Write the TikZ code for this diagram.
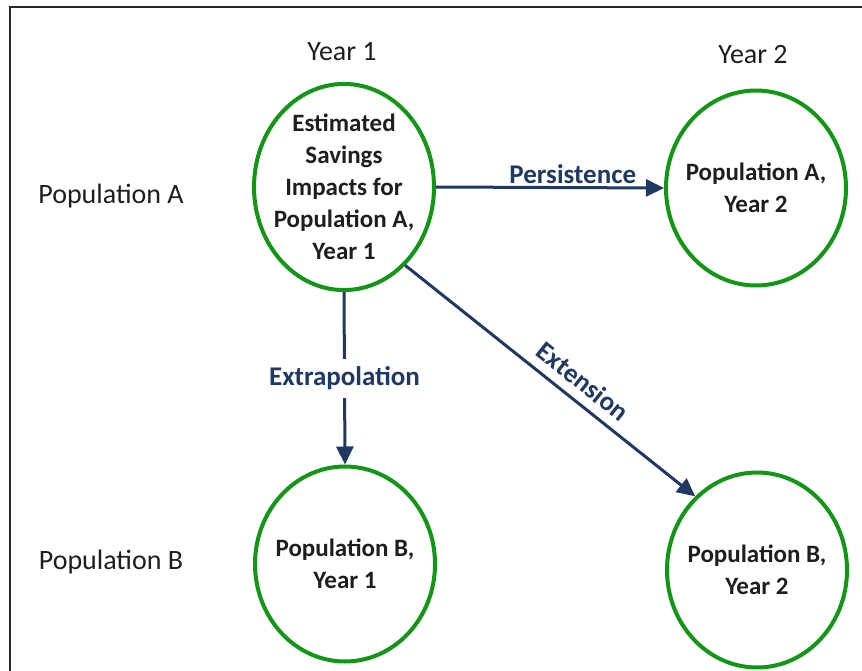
\documentclass[tikz,border=0pt]{standalone}
\usepackage{fontspec}
\setmainfont{Carlito}
\usetikzlibrary{shapes.geometric,arrows.meta}
\definecolor{popgreen}{RGB}{18,150,22}
\definecolor{flowblue}{RGB}{31,56,100}
\definecolor{labeltext}{RGB}{30,30,30}

\begin{document}
\begin{tikzpicture}[x=1pt,y=-1pt,
popnode/.style={draw=popgreen,line width=4pt,ellipse,minimum width=180pt,minimum height=195pt,
    inner xsep=-30pt,inner ysep=0pt,align=center,text=labeltext,font=\bfseries\fontsize{25}{32}\selectfont},
flow/.style={draw=flowblue,line width=3pt,-{Triangle[length=18pt,width=17pt]}},
flowlabel/.style={text=flowblue,font=\bfseries\fontsize{27}{30}\selectfont},
axislabel/.style={text=labeltext,font=\fontsize{28}{32}\selectfont}]
\useasboundingbox (0,0) rectangle (862,671);
% frame edges
\draw[line width=1.5pt,black!85] (10,671) -- (10,7) -- (862,7);

% headings
\node (yr1) [axislabel] at (342,52) {Year 1};
\node (yr2) [axislabel] at (753,55) {Year 2};
\node (popa) [axislabel] at (111,196) {Population A};
\node (popb) [axislabel] at (111,562) {Population B};

% populations
\node (est) [popnode] at (344,187) {Estimated\\Savings\\Impacts for\\Population A,\\Year 1};
\node (a2) [popnode] at (756,188) {Population A,\\Year 2};
\node (b1) [popnode] at (345,564) {Population B,\\Year 1};
\node (b2) [popnode] at (757,570) {Population B,\\Year 2};

% transfers
\draw[flow] (est.east) -- (a2.west) node[flowlabel,pos=0.6,above,inner sep=2pt] {Persistence};
\draw[flow] (est.south) -- (b1.north) node[flowlabel,midway,fill=white,inner ysep=8pt] {Extrapolation};
\draw[flow] (est.-52) -- (b2.130) node[flowlabel,pos=0.57,sloped,above,inner sep=9pt] {Extension};
\end{tikzpicture}
\end{document}
